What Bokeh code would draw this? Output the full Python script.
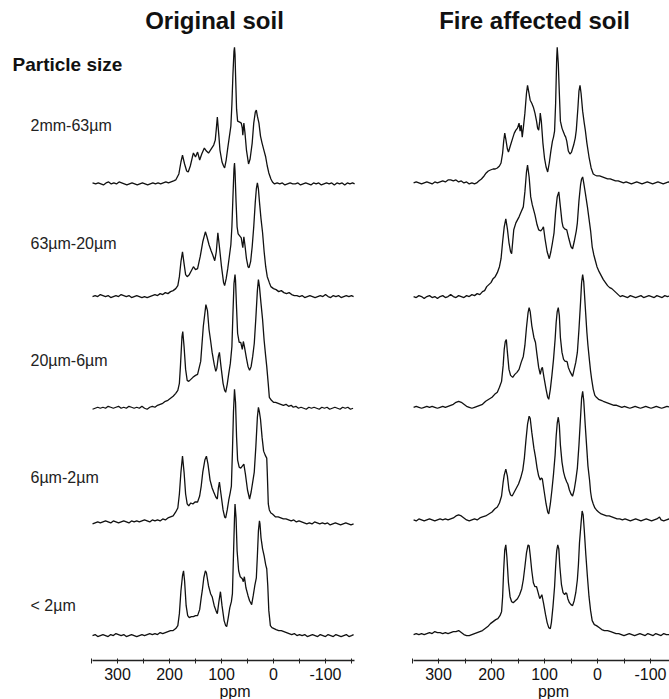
from bokeh.plotting import figure
from bokeh.layouts import row, column
from bokeh.models import Range1d, FixedTicker, Label, ColumnDataSource
from bokeh.embed import file_html
from bokeh.resources import INLINE

# ---------------- data ----------------
particle_sizes = ["2mm-63µm", "63µm-20µm", "20µm-6µm", "6µm-2µm", "< 2µm"]
panel_titles = ["Original soil", "Fire affected soil"]
row_header = "Particle size"
axis_title = "ppm"
tick_values = [300, 200, 100, 0, -100]
tick_labels = ["300", "200", "100", "0", "-100"]
minor_tick_values = [350, 250, 150, 50, -50, -150]

# (ppm, intensity), intensity relative to each trace's baseline
orig_2mm_63um = [(348,1),(342,0),(337,1),(332,0),(327,-1),(322,1),(317,2),(312,0),(307,1),(302,0),(297,2),(292,1),(287,0),(282,-1),(277,0),(272,1),(267,0),(262,-1),(257,0),(252,1),(247,0),(242,-1),(237,0),(232,1),(227,0),(222,1),(217,0),(212,1),(207,2),(202,1),(197,2),(192,3),(188,4),
    (182,10),(178,22),(175,29),(171,20),(167,13),(164,12),(160,18),(156,27),(154,31),(150,27),(146,32),(142,24),(138,30),(133,36),(129,33),(125,31),(120,35),(115,39),(112,44),(110,55),(108,67),(105,48),(103,34),(99,22),(96,18),(94,16),(91,24),(88,36),(85,47),(82,58),(80,80),(78,110),(76,133),(75,137),(74,130),(73,110),(71,75),(69,63),(65,62),(62,61),(60,56),(59,49),(57,61),(55,52),(52,34),(48,20),(45,25),(41,41),(38,61),(35,72),(33,74),(31,68),(28,61),(25,48),(22,41),(18,33),(15,27),(12,18),(9,11),(5,5),(2,2),
    (-2,0),(-7,1),(-12,0),(-17,1),(-22,-1),(-27,0),(-32,1),(-37,0),(-42,0),(-47,1),(-52,-1),(-57,0),(-62,1),(-67,0),(-72,-1),(-77,1),(-82,0),(-87,1),(-92,-1),(-97,0),(-102,1),(-107,0),(-112,1),(-117,-1),(-122,1),(-127,0),(-132,1),(-137,-1),(-142,1),(-147,0),(-152,1),(-156,0)]

orig_63um_20um = [(348,0),(343,1),(338,0),(333,2),(328,1),(323,0),(318,1),(313,-1),(308,0),(303,1),(298,0),(293,2),(288,1),(283,0),(278,1),(273,-1),(268,0),(263,1),(258,0),(253,-1),(248,0),(243,-1),(238,0),(233,1),(228,2),(223,1),(218,3),(213,2),(208,4),(203,3),(198,5),(193,6),(188,8),(184,11),
    (181,20),(178,35),(175,45),(172,33),(169,22),(166,20),(162,22),(158,26),(154,30),(150,27),(146,28),(141,40),(136,55),(131,65),(128,60),(124,52),(120,46),(117,42),(113,36),(110,45),(107,64),(104,50),(100,30),(96,14),(94,11),(91,18),(88,28),(85,40),(82,52),(80,70),(78,100),(76,128),(75,134),(74,126),(72,95),(70,70),(68,63),(65,61),(62,59),(60,52),(59,49),(57,60),(55,52),(52,38),(49,30),(47,29),(44,35),(41,50),(38,70),(35,95),(33,108),(31,114),(29,108),(27,95),(24,78),(21,64),(18,45),(15,30),(12,20),(8,14),(5,10),(0,8),
    (-5,7),(-10,5),(-15,6),(-20,4),(-25,3),(-30,4),(-35,2),(-40,1),(-45,1),(-50,0),(-55,1),(-60,-1),(-65,0),(-70,1),(-75,0),(-80,-1),(-85,0),(-90,1),(-95,0),(-100,2),(-105,0),(-110,-1),(-115,1),(-120,0),(-125,1),(-130,-1),(-135,0),(-140,1),(-145,0),(-150,1),(-154,0)]

orig_20um_6um = [(348,-1),(343,0),(338,1),(333,0),(328,1),(323,0),(318,2),(313,1),(308,0),(303,1),(298,2),(293,0),(288,1),(283,0),(278,2),(273,1),(268,0),(263,1),(258,0),(253,2),(248,0),(243,-1),(238,1),(233,2),(228,1),(223,3),(218,4),(213,5),(208,7),(203,8),(198,10),(193,12),(188,15),(184,18),
    (181,25),(179,42),(176,72),(174.5,77),(172,62),(169,39),(166,28),(163,27),(159,29),(155,31),(150,33),(146,34),(140,47),(135,82),(130,104),(127,98),(124,79),(121,68),(118,56),(114,44),(111,37),(109,40),(106,52),(104,56),(101,42),(97,25),(94,18),(92,16),(89,24),(86,35),(83,45),(80,62),(78,95),(76,125),(74,134),(73,128),(71,100),(69,75),(66,66),(63,66),(60,59),(58,67),(56,62),(52,50),(49,42),(46,38),(43,42),(40,52),(37,65),(34,90),(31,118),(29,129),(27,122),(24,105),(21,89),(18,68),(15,52),(13,42),(10,24),(8,11),(4,8),(0,6),
    (-4,6),(-9,5),(-14,4),(-19,3),(-24,4),(-29,2),(-34,3),(-38,1),(-43,2),(-48,0),(-53,1),(-58,0),(-63,-1),(-68,1),(-73,0),(-78,1),(-83,0),(-88,-1),(-93,1),(-98,0),(-103,1),(-108,-1),(-113,0),(-118,1),(-123,0),(-128,-1),(-133,1),(-138,0),(-143,1),(-148,-1),(-153,0)]

orig_6um_2um = [(348,-2),(343,-1),(338,0),(333,-1),(328,0),(323,1),(318,0),(313,-1),(308,1),(303,0),(298,-1),(293,0),(288,1),(283,0),(278,-1),(273,1),(268,0),(263,1),(258,0),(253,1),(248,2),(243,1),(238,0),(233,2),(228,1),(223,2),(218,1),(213,3),(208,2),(203,4),(198,5),(193,6),(188,10),(184,14),
    (181,28),(178,50),(175,66),(172,50),(169,28),(166,18),(163,16),(159,19),(155,18),(151,20),(146,20),(142,26),(139,36),(136,50),(132,62),(129,66),(126,58),(122,42),(118,34),(115,30),(111,25),(108,23),(106,34),(104,40),(101,28),(97,12),(94,5),(92,4),(89,12),(86,22),(83,30),(81,36),(79,70),(77,110),(75,133),(73,120),(71,85),(69,62),(66,55),(63,54),(60,56),(57,58),(54,48),(50,32),(46,23),(43,30),(40,40),(37,50),(34,75),(31,105),(29,115),(27,110),(25,103),(22,85),(19,71),(16,67),(13,64),(12,50),(10,18),(8,12),(5,9),(2,8),(0,7),
    (-4,5),(-9,5),(-14,4),(-19,3),(-24,3),(-29,2),(-34,1),(-39,2),(-44,0),(-49,1),(-54,0),(-59,-1),(-64,-2),(-69,-1),(-74,-2),(-79,0),(-84,-1),(-89,-2),(-94,-1),(-99,-2),(-104,-1),(-109,-3),(-114,-2),(-119,-1),(-124,-2),(-129,-3),(-134,-2),(-139,-1),(-144,-2),(-149,-3),(-154,-2)]

orig_below_2um = [(348,0),(343,1),(338,-1),(333,0),(328,1),(323,0),(318,-1),(313,1),(308,0),(303,2),(298,1),(293,0),(288,1),(283,-1),(278,0),(273,1),(268,0),(263,-1),(258,0),(253,1),(248,0),(243,1),(238,2),(233,1),(228,2),(223,1),(218,3),(213,2),(208,3),(203,4),(198,5),(193,5),(188,7),(184,10),
    (181,22),(178,45),(175,60),(173,65),(171,55),(168,30),(165,20),(162,18),(158,19),(154,19),(150,20),(146,20),(142,26),(139,38),(137,45),(134,58),(131,65),(129,63),(125,50),(121,42),(118,39),(114,30),(110,24),(108,22),(105,34),(102,44),(99,30),(95,15),(92,10),(90,9),(87,18),(84,28),(81,34),(79,42),(77,80),(75,118),(74,132),(72,118),(70,85),(67,65),(64,59),(62,58),(60,57),(58,54),(56,59),(53,48),(49,40),(46,35),(42,31),(39,40),(36,50),(33,58),(31,80),(29,105),(27,115),(26,112),(24,98),(21,87),(18,80),(15,71),(13,67),(11,50),(9,25),(6,10),(3,8),(-1,7),
    (-5,6),(-10,5),(-15,5),(-20,4),(-25,3),(-30,2),(-35,1),(-40,2),(-45,0),(-50,1),(-55,0),(-60,1),(-65,-1),(-70,0),(-75,1),(-80,0),(-85,-1),(-90,1),(-95,0),(-100,-1),(-105,1),(-110,0),(-115,-1),(-120,1),(-125,0),(-130,-1),(-135,0),(-140,1),(-145,-1),(-150,0),(-154,1)]

fire_2mm_63um = [(347,0),(342,1),(337,0),(332,-1),(327,0),(322,1),(317,0),(312,-1),(307,1),(302,0),(297,1),(292,2),(287,1),(282,3),(277,3),(272,2),(267,3),(262,1),(257,2),(252,0),(247,1),(242,-1),(237,0),(232,-1),(228,0),(224,2),(219,4),(214,7),(210,10),(206,12),(202,13),(197,14),(193,14),(189,15),(185,17),(182,20),
    (179,30),(177,42),(175,50),(173,44),(170,34),(168,31),(164,38),(160,45),(157,50),(154,53),(151,55),(148,60),(146,52),(144,58),(142,46),(140,55),(137,70),(134,90),(132,98),(130,92),(127,83),(124,80),(121,76),(118,70),(115,62),(113,55),(111,53),(109,62),(108,70),(106,62),(103,40),(100,25),(97,16),(94,11),(91,20),(88,32),(85,42),(83,46),(81,52),(79,80),(77,125),(76,136),(74,120),(72,90),(70,62),(67,55),(65,52),(62,48),(60,46),(58,42),(55,32),(52,29),(49,31),(45,38),(42,45),(40,53),(37,75),(35,92),(33,98),(31,90),(28,72),(25,60),(23,53),(20,40),(16,26),(12,15),(8,9),(5,8),
    (1,7),(-4,7),(-9,6),(-14,5),(-19,4),(-24,4),(-29,3),(-34,2),(-39,2),(-44,1),(-49,0),(-54,1),(-59,0),(-64,-1),(-69,0),(-74,1),(-79,0),(-84,-1),(-89,0),(-94,1),(-99,0),(-104,-1),(-109,0),(-114,1),(-119,0),(-124,-1),(-129,0),(-134,1),(-138,0)]

fire_63um_20um = [(347,0),(342,-1),(337,1),(332,0),(327,-2),(322,0),(317,1),(312,-1),(307,0),(302,-2),(297,0),(292,1),(287,-1),(282,0),(277,2),(272,0),(267,-1),(262,1),(257,0),(252,-1),(247,1),(242,0),(237,2),(232,1),(227,3),(222,2),(217,5),(213,6),(209,10),(205,12),(201,14),(197,18),(193,20),(189,24),(185,30),(182,38),
    (179,55),(176,70),(173,78),(170,68),(167,54),(164,45),(162,43),(158,67),(154,74),(151,77),(148,80),(144,85),(140,90),(137,105),(134,125),(132,132),(129,120),(126,100),(123,92),(118,82),(114,72),(111,67),(107,66),(104,68),(102,70),(99,58),(95,45),(91,38),(88,45),(85,54),(82,64),(79,85),(76,100),(73,105),(70,90),(67,75),(65,70),(62,68),(58,67),(54,58),(50,50),(47,48),(44,55),(40,66),(38,74),(35,96),(32,112),(30,118),(28,120),(26,114),(23,104),(19,90),(16,78),(13,66),(10,50),(7,42),(4,36),(1,30),(-3,25),(-7,21),(-11,17),(-15,14),(-19,11),(-23,9),(-27,8),(-31,6),(-35,4),(-39,2),(-43,0),
    (-47,1),(-52,0),(-57,-1),(-62,1),(-67,0),(-72,-1),(-77,0),(-82,1),(-87,-1),(-92,0),(-97,1),(-102,0),(-107,-1),(-112,1),(-117,0),(-122,-1),(-127,1),(-132,0),(-138,1)]

fire_20um_6um = [(347,0),(342,1),(337,0),(332,-1),(327,0),(322,1),(317,0),(312,1),(307,0),(302,-1),(297,0),(292,1),(287,0),(282,1),(277,2),(272,3),(267,5),(262,6),(257,5),(252,3),(247,1),(242,0),(237,-1),(232,0),(227,1),(222,2),(217,3),(211,6),(205,8),(199,10),(194,13),(189,15),(185,20),(181,26),
    (178,42),(176,58),(174,66),(172,68),(170,55),(167,38),(164,32),(160,30),(156,33),(152,35),(148,38),(144,45),(140,51),(137,62),(134,80),(131,95),(129,100),(127,96),(124,82),(120,70),(117,65),(114,52),(111,40),(108,33),(106,38),(104,40),(101,30),(97,18),(94,10),(92,8),(89,18),(86,32),(83,48),(80,68),(78,85),(76,96),(74,100),(72,92),(70,70),(67,55),(64,48),(61,46),(58,46),(57,45),(55,40),(52,36),(49,33),(47,31),(44,38),(41,45),(38,55),(35,78),(32,105),(30,125),(28,133),(26,126),(23,100),(20,75),(18,62),(15,46),(13,36),(11,28),(8,18),(5,12),(2,10),(-2,8),(-7,7),(-11,6),(-16,5),(-21,4),(-26,3),(-31,2),(-36,2),(-41,1),
    (-46,0),(-51,1),(-56,0),(-61,-1),(-66,0),(-71,1),(-76,0),(-81,-1),(-86,0),(-91,1),(-96,0),(-101,-1),(-106,0),(-111,1),(-116,0),(-121,-1),(-126,0),(-131,1),(-138,0)]

fire_6um_2um = [(347,0),(342,-1),(337,1),(332,0),(327,-1),(322,0),(317,1),(312,0),(307,-1),(302,0),(297,1),(292,0),(287,1),(282,0),(277,1),(272,2),(267,4),(262,5),(257,4),(252,2),(247,0),(242,-1),(237,0),(232,1),(227,0),(222,2),(217,3),(211,4),(205,6),(199,8),(194,11),(189,13),(185,17),(181,24),
    (178,38),(176,45),(173,51),(170,44),(167,30),(164,25),(161,24),(157,28),(153,32),(149,36),(145,42),(141,50),(138,62),(135,80),(132,96),(129,104),(127,102),(124,88),(120,72),(117,63),(114,52),(111,44),(108,40),(106,42),(104,41),(101,30),(97,16),(94,8),(92,6),(89,16),(86,30),(83,46),(80,65),(78,84),(76,97),(74,103),(72,95),(70,75),(67,58),(64,48),(61,42),(58,38),(56,36),(53,30),(50,26),(47,24),(44,30),(41,40),(38,52),(35,75),(32,103),(30,122),(28,129),(26,120),(23,94),(20,70),(18,54),(15,40),(13,28),(11,21),(8,16),(5,12),(2,10),(-2,8),(-7,6),(-12,5),(-17,4),(-22,4),(-27,3),(-32,2),(-37,1),
    (-42,1),(-47,0),(-52,1),(-57,0),(-62,-1),(-67,0),(-72,1),(-77,0),(-82,-1),(-87,0),(-92,1),(-97,0),(-102,-1),(-107,0),(-112,1),(-117,3),(-120,0),(-125,-1),(-130,0),(-135,1),(-138,0)]

fire_below_2um = [(347,0),(342,1),(337,0),(332,1),(327,0),(322,1),(317,2),(312,1),(307,3),(302,2),(297,2),(292,1),(287,2),(282,1),(277,2),(272,3),(267,3),(262,4),(257,2),(252,0),(247,-1),(242,-1),(237,0),(232,1),(227,2),(222,3),(217,4),(212,6),(207,8),(202,11),(197,13),(192,15),(188,16),(184,19),(181,23),
    (179,38),(177,65),(175,85),(173,90),(171,78),(168,52),(165,38),(162,33),(159,32),(155,34),(151,36),(147,40),(143,46),(140,55),(137,68),(134,82),(131,90),(129,89),(127,80),(124,64),(121,52),(118,48),(115,48),(112,42),(109,36),(107,38),(105,40),(102,32),(98,20),(95,12),(92,7),(89,6),(87,12),(84,28),(81,48),(79,68),(77,84),(75,90),(73,86),(71,68),(68,50),(65,42),(62,40),(60,42),(58,41),(56,36),(53,32),(50,30),(47,29),(44,34),(41,42),(38,55),(36,70),(34,92),(31,112),(29,124),(27,120),(25,105),(22,80),(19,58),(16,38),(13,24),(10,14),(6,10),(2,9),(-3,7),(-8,5),(-13,4),(-19,4),(-25,3),(-30,2),(-35,1),
    (-40,1),(-45,0),(-50,-1),(-55,0),(-60,1),(-65,0),(-70,-1),(-75,0),(-80,1),(-85,0),(-90,-1),(-95,1),(-100,0),(-105,-1),(-110,1),(-115,0),(-120,-1),(-125,1),(-130,0),(-138,0)]

original_soil = [orig_2mm_63um, orig_63um_20um, orig_20um_6um, orig_6um_2um, orig_below_2um]
fire_soil = [fire_2mm_63um, fire_63um_20um, fire_20um_6um, fire_6um_2um, fire_below_2um]

# ---------------- layout (pixels) ----------------
PAGE_W = 669
PAGE_H = 699
STRIP_H = 17          # bottom strip holding the "ppm" captions
PANEL_H = PAGE_H - STRIP_H
FRAME_H = 662
orig_offsets = [478, 365, 253, 139, 25]
fire_offsets = [479, 365, 254, 141, 26]

FONT = "Liberation Sans"


def make_panel(width, x_start, x_end, bounds, traces, offsets):
    p = figure(width=width, height=PANEL_H, output_backend="svg", toolbar_location=None,
               x_range=Range1d(x_start, x_end), y_range=Range1d(0, FRAME_H),
               y_axis_location=None, min_border=0, min_border_left=0, min_border_right=0,
               min_border_top=0, min_border_bottom=PANEL_H - FRAME_H)
    p.outline_line_color = None
    p.grid.visible = False
    p.background_fill_color = "white"
    p.border_fill_color = "white"
    ax = p.xaxis[0]
    ax.bounds = bounds
    ax.ticker = FixedTicker(ticks=tick_values, minor_ticks=minor_tick_values)
    ax.major_label_overrides = {v: s for v, s in zip(tick_values, tick_labels)}
    ax.major_label_text_font = FONT
    ax.major_label_text_font_size = "16px"
    ax.major_label_text_color = "#111111"
    ax.major_label_standoff = 4
    ax.axis_line_color = "#222222"
    ax.axis_line_width = 1.4
    ax.major_tick_line_color = "#222222"
    ax.minor_tick_line_color = "#222222"
    ax.major_tick_in = 2
    ax.major_tick_out = 3
    ax.minor_tick_in = 2
    ax.minor_tick_out = 3
    for trace, off in zip(traces, offsets):
        src = ColumnDataSource(dict(x=[t[0] for t in trace], y=[t[1] + off for t in trace]))
        p.line("x", "y", source=src, line_color="#111111", line_width=1.3)
    return p


# left panel: page x 0..390, ppm = (273 - page_x)/0.52
def lx(px):
    return (273 - px) / 0.52


# right panel: page x 390..669, ppm = (597 - page_x)/0.53
def rx(px):
    return (597 - px) / 0.53


def py(page_y):
    return FRAME_H - page_y


p1 = make_panel(390, lx(0), lx(390), (-156, 348), original_soil, orig_offsets)
p2 = make_panel(279, rx(390), rx(669), (-160, 347), fire_soil, fire_offsets)

p1.add_layout(Label(x=lx(214), y=py(20), text=panel_titles[0], text_font=FONT, text_font_size="24px",
                    text_font_style="bold", text_align="center", text_baseline="middle", text_color="#111111"))
p2.add_layout(Label(x=rx(534), y=py(20), text=panel_titles[1], text_font=FONT, text_font_size="24px",
                    text_font_style="bold", text_align="center", text_baseline="middle", text_color="#111111"))
p1.add_layout(Label(x=lx(12), y=py(64), text=row_header, text_font=FONT, text_font_size="19px",
                    text_font_style="bold", text_align="left", text_baseline="middle", text_color="#111111"))
label_rows = [125, 244, 361, 478, 607]
for name, ry in zip(particle_sizes, label_rows):
    p1.add_layout(Label(x=lx(30), y=py(ry), text=name, text_font=FONT, text_font_size="16px",
                        text_align="left", text_baseline="middle", text_color="#222222"))

# bottom strip with the two "ppm" axis captions (pixel coordinates, y up from strip bottom)
strip = figure(width=PAGE_W, height=STRIP_H, output_backend="svg", toolbar_location=None,
               x_range=Range1d(0, PAGE_W), y_range=Range1d(0, STRIP_H),
               x_axis_location=None, y_axis_location=None, min_border=0)
strip.outline_line_color = None
strip.grid.visible = False
for cx in (234.5, 553):
    strip.add_layout(Label(x=cx, y=8, text=axis_title, text_font=FONT, text_font_size="16px",
                           text_align="center", text_baseline="middle", text_color="#111111"))

layout = column(row(p1, p2), strip)
open("out.html", "w").write(file_html(layout, INLINE))
